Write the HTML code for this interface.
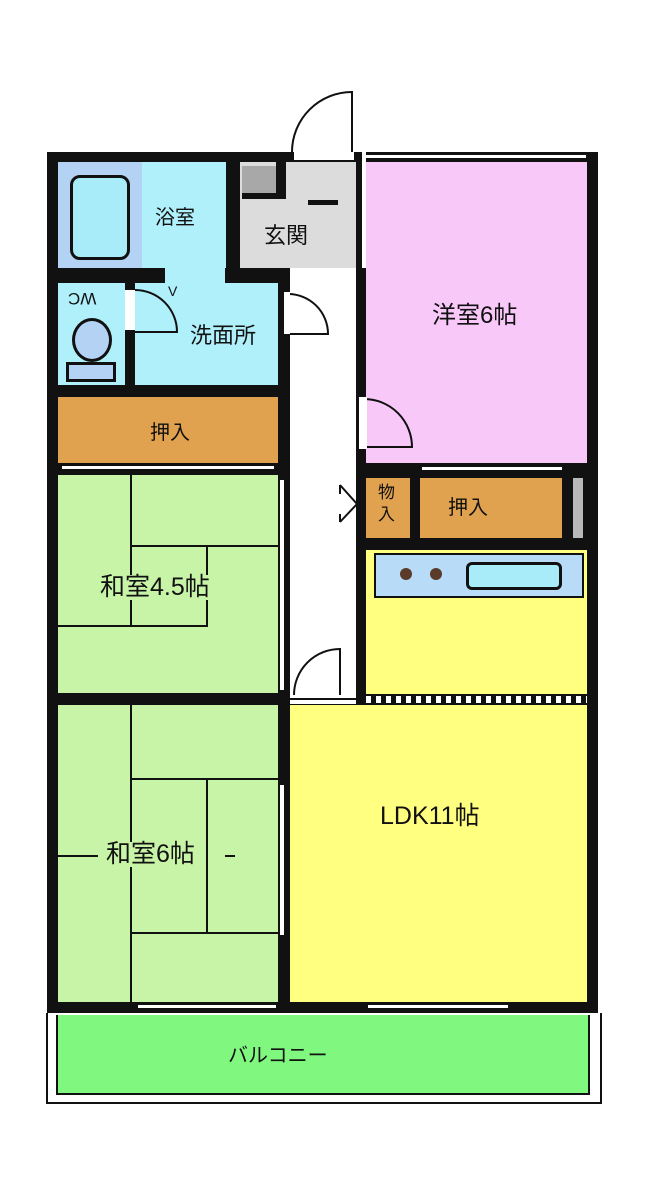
<!DOCTYPE html>
<html><head><meta charset="utf-8"><style>
body{margin:0;width:646px;height:1200px;background:#fff;position:relative;overflow:hidden;font-family:"Liberation Sans","Noto Sans CJK JP",sans-serif}
div{position:absolute;box-sizing:border-box}
.t{font-size:22px;color:#111;white-space:nowrap;line-height:1}
.ln{background:#111}
</style></head><body>
<!-- building block -->
<div style="left:47px;top:152px;width:551px;height:861px;background:#111"></div>
<!-- genkan door opening -->
<div style="left:294px;top:148px;width:60px;height:12px;background:#fff"></div>
<svg style="position:absolute;left:290px;top:90px" width="70" height="70"><path d="M2,62 A60,60 0 0 1 62,2 L62,62" fill="none" stroke="#111" stroke-width="2"/></svg>
<!-- bath -->
<div style="left:58px;top:162px;width:84px;height:106px;background:#b4d2f4"></div>
<div style="left:70px;top:175px;width:60px;height:85px;border:3px solid #111;border-radius:10px;background:#a8ecfa"></div>
<div style="left:142px;top:162px;width:84px;height:106px;background:#b0f0fa"></div>
<div class="t" style="left:155px;top:208px;font-size:20px">浴室</div>
<!-- genkan -->
<div style="left:240px;top:162px;width:116px;height:106px;background:#dcdcdc"></div>
<div style="left:242px;top:166px;width:34px;height:28px;background:#a8a8a8"></div>
<div style="left:276px;top:162px;width:10px;height:36px;background:#111"></div>
<div style="left:242px;top:193px;width:44px;height:6px;background:#111"></div>
<div style="left:308px;top:200px;width:30px;height:5px;background:#111"></div>
<div class="t" style="left:264px;top:225px;font-size:22px">玄関</div>
<!-- corridor -->
<div style="left:290px;top:268px;width:66px;height:436px;background:#fff"></div>
<div style="left:356px;top:152px;width:10px;height:116px;background:#fff"></div>
<div style="left:356px;top:152px;width:6px;height:553px;background:#111"></div>
<!-- pink -->
<div style="left:366px;top:162px;width:221px;height:301px;background:#f8c8f8"></div>
<div style="left:366px;top:154px;width:220px;height:5px;background:#fff;border-top:1px solid #111;border-bottom:1px solid #111"></div>
<div class="t" style="left:432px;top:304px;font-size:24px">洋室6帖</div>
<svg style="position:absolute;left:358px;top:395px" width="60" height="70"><path d="M6,4 A48,48 0 0 1 54,52 L6,52" fill="none" stroke="#111" stroke-width="2"/><rect x="1" y="2" width="8" height="52" fill="#fff"/></svg>
<!-- WC -->
<div style="left:58px;top:283px;width:67px;height:102px;background:#b0f0fa"></div>
<div class="t" style="left:68px;top:290px;font-size:17px;transform:rotate(180deg)">WC</div>
<div style="left:72px;top:318px;width:40px;height:44px;border:3px solid #111;border-radius:50%;background:#b4d2f4"></div>
<div style="left:66px;top:362px;width:50px;height:20px;border:3px solid #111;background:#b4d2f4"></div>
<!-- washroom -->
<div style="left:135px;top:283px;width:143px;height:102px;background:#b0f0fa"></div>
<div style="left:125px;top:290px;width:10px;height:40px;background:#fff"></div>
<svg style="position:absolute;left:133px;top:288px" width="60" height="60"><path d="M2,2 A42,42 0 0 1 44,44 L2,44" fill="none" stroke="#111" stroke-width="2"/></svg>
<div style="left:165px;top:268px;width:60px;height:15px;background:#b0f0fa"></div>
<div class="t" style="left:168px;top:284px;font-size:14px">V</div>
<div class="t" style="left:190px;top:325px;font-size:22px">洗面所</div>
<svg style="position:absolute;left:284px;top:290px" width="50" height="60"><path d="M4,4 A40,40 0 0 1 44,44 L4,44" fill="none" stroke="#111" stroke-width="2"/><rect x="0" y="2" width="6" height="42" fill="#fff"/></svg>
<!-- oshiire left -->
<div style="left:58px;top:397px;width:220px;height:66px;background:#e0a24e"></div>
<div class="t" style="left:150px;top:423px;font-size:20px">押入</div>
<div style="left:62px;top:465px;width:212px;height:5px;background:#fff;border-top:1px solid #111;border-bottom:1px solid #111"></div>
<!-- washitsu 4.5 -->
<div style="left:58px;top:475px;width:220px;height:218px;background:#c8f4a8"></div>
<div class="ln" style="left:130px;top:475px;width:2px;height:150px"></div>
<div class="ln" style="left:132px;top:545px;width:146px;height:2px"></div>
<div class="ln" style="left:206px;top:545px;width:2px;height:80px"></div>
<div class="ln" style="left:58px;top:625px;width:150px;height:2px"></div>
<div class="t" style="left:100px;top:575px;font-size:25px;background:#c8f4a8">和室4.5帖</div>
<div style="left:279px;top:480px;width:6px;height:210px;background:#fff;border-left:1px solid #111;border-right:1px solid #111"></div>
<!-- washitsu 6 -->
<div style="left:58px;top:705px;width:220px;height:297px;background:#c8f4a8"></div>
<div class="ln" style="left:130px;top:705px;width:2px;height:297px"></div>
<div class="ln" style="left:132px;top:778px;width:146px;height:2px"></div>
<div class="ln" style="left:132px;top:932px;width:146px;height:2px"></div>
<div class="ln" style="left:206px;top:778px;width:2px;height:154px"></div>
<div class="ln" style="left:58px;top:855px;width:40px;height:2px"></div>
<div class="ln" style="left:225px;top:855px;width:10px;height:2px"></div>
<div class="t" style="left:106px;top:842px;font-size:25px;background:#c8f4a8">和室6帖</div>
<div style="left:279px;top:785px;width:6px;height:150px;background:#fff;border-left:1px solid #111;border-right:1px solid #111"></div>
<div style="left:138px;top:1004px;width:138px;height:5px;background:#fff;border-top:1px solid #111;border-bottom:1px solid #111"></div>
<!-- mono-ire / oshiire right -->
<div style="left:366px;top:478px;width:44px;height:60px;background:#e0a24e"></div>
<div class="t" style="left:378px;top:482px;font-size:17px;line-height:22px;width:20px">物<br>入</div>
<div style="left:420px;top:478px;width:142px;height:60px;background:#e0a24e"></div>
<div class="t" style="left:448px;top:498px;font-size:20px">押入</div>
<div style="left:573px;top:478px;width:10px;height:60px;background:#b8b8b8"></div>
<div style="left:422px;top:466px;width:140px;height:5px;background:#fff;border-top:1px solid #111;border-bottom:1px solid #111"></div>
<svg style="position:absolute;left:337px;top:482px" width="30" height="50"><path d="M3,3 L20,22 L3,40 M3,3 L3,12 M3,40 L3,32" fill="none" stroke="#111" stroke-width="2"/></svg>
<!-- kitchen -->
<div style="left:366px;top:550px;width:221px;height:150px;background:#ffff80"></div>
<div style="left:374px;top:553px;width:210px;height:45px;background:#b8dcf8;border:2px solid #111"></div>
<div style="left:400px;top:568px;width:12px;height:12px;border-radius:50%;background:#5a3a28"></div>
<div style="left:430px;top:568px;width:12px;height:12px;border-radius:50%;background:#5a3a28"></div>
<div style="left:466px;top:562px;width:96px;height:28px;border:3px solid #111;border-radius:6px;background:#a8ecfa"></div>
<div style="left:366px;top:694px;width:221px;height:11px;background:repeating-linear-gradient(90deg,#fff 0 5px,#111 5px 10px);border-top:2px solid #111;border-bottom:2px solid #111"></div>
<!-- LDK -->
<div style="left:290px;top:705px;width:297px;height:297px;background:#ffff80"></div>
<div style="left:290px;top:688px;width:66px;height:12px;background:#fff;border-bottom:2px solid #111"></div>
<svg style="position:absolute;left:290px;top:645px" width="66" height="60"><path d="M4,50 A46,46 0 0 1 50,4 L50,50" fill="none" stroke="#111" stroke-width="2"/></svg>
<div class="t" style="left:380px;top:804px;font-size:25px">LDK11帖</div>
<div style="left:368px;top:1004px;width:140px;height:5px;background:#fff;border-top:1px solid #111;border-bottom:1px solid #111"></div>
<!-- balcony -->
<div style="left:46px;top:1013px;width:556px;height:91px;border-left:2px solid #111;border-right:2px solid #111;border-bottom:2px solid #111;background:#fff"></div>
<div style="left:56px;top:1015px;width:534px;height:80px;background:#80f880;border:2px solid #111;border-top:none"></div>
<div class="t" style="left:228px;top:1046px;font-size:20px">バルコニー</div>
</body></html>
